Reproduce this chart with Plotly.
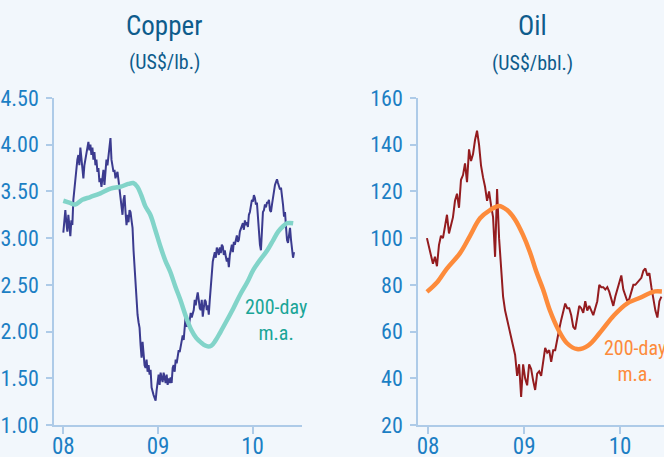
import pandas as pd
import plotly.graph_objects as go

# ---------------- data ----------------
copper_start = "2008-01-01"
copper_price = [
    3.06, 3.19, 3.30, 3.17, 3.07, 3.25, 3.11, 3.02, 3.19, 3.14,
    3.41, 3.52, 3.68, 3.75, 3.84, 3.89, 3.78, 3.97, 3.84, 3.73,
    3.64, 3.78, 3.84, 3.92, 3.98, 4.03, 3.94, 4.00, 3.89, 3.97,
    3.84, 3.92, 3.78, 3.84, 3.71, 3.75, 3.60, 3.64, 3.55, 3.62,
    3.73, 3.57, 3.68, 3.84, 3.78, 3.89, 3.94, 4.07, 3.84, 3.75,
    3.71, 3.73, 3.64, 3.68, 3.71, 3.62, 3.52, 3.49, 3.36, 3.25,
    3.41, 3.46, 3.28, 3.14, 3.25, 3.17, 3.30, 3.28, 3.19, 3.11,
    2.87, 2.68, 2.42, 2.28, 2.18, 2.10, 2.04, 1.86, 1.72, 1.89,
    1.75, 1.64, 1.61, 1.70, 1.57, 1.64, 1.54, 1.59, 1.40, 1.35,
    1.32, 1.29, 1.26, 1.37, 1.48, 1.54, 1.43, 1.56, 1.50, 1.46,
    1.56, 1.48, 1.45, 1.54, 1.43, 1.50, 1.45, 1.51, 1.45, 1.61,
    1.64, 1.57, 1.70, 1.66, 1.75, 1.80, 1.78, 1.84, 1.91, 1.96,
    1.91, 2.10, 2.18, 2.05, 2.10, 2.05, 2.15, 2.20, 2.15, 2.20,
    2.23, 2.34, 2.28, 2.36, 2.42, 2.34, 2.25, 2.23, 2.34, 2.16,
    2.28, 2.34, 2.32, 2.23, 2.28, 2.18, 2.34, 2.52, 2.66, 2.75,
    2.80, 2.85, 2.79, 2.90, 2.87, 2.82, 2.90, 2.84, 2.93, 2.91,
    2.82, 2.87, 2.80, 2.75, 2.79, 2.69, 2.82, 2.87, 2.93, 2.85,
    2.96, 2.93, 3.00, 3.03, 2.96, 2.98, 3.07, 3.11, 3.13, 3.16,
    3.09, 3.19, 3.14, 3.17, 3.12, 3.25, 3.28, 3.33, 3.41, 3.39,
    3.46, 3.43, 3.36, 3.38, 3.25, 3.03, 2.93, 2.87, 3.11, 3.28,
    3.30, 3.36, 3.33, 3.38, 3.38, 3.41, 3.30, 3.28, 3.36, 3.45,
    3.52, 3.57, 3.60, 3.63, 3.59, 3.56, 3.52, 3.54, 3.46, 3.36,
    3.23, 3.28, 3.12, 2.98, 2.95, 3.03, 3.11, 2.98, 2.87, 2.79,
    2.85,
]
copper_ma_dates = [
    "2008-01-01", "2008-01-24", "2008-02-16", "2008-03-14", "2008-04-14",
    "2008-05-23", "2008-07-01", "2008-08-08", "2008-09-08", "2008-09-27",
    "2008-10-13", "2008-10-28", "2008-11-13", "2008-12-02", "2008-12-21",
    "2009-01-10", "2009-01-29", "2009-02-17", "2009-03-09", "2009-03-28",
    "2009-04-20", "2009-05-09", "2009-05-29", "2009-06-17", "2009-07-02",
    "2009-07-14", "2009-07-26", "2009-08-10", "2009-08-29", "2009-09-22",
    "2009-10-19", "2009-11-15", "2009-12-12", "2010-01-04", "2010-01-31",
    "2010-02-27", "2010-03-22", "2010-04-10", "2010-04-30", "2010-05-15",
    "2010-06-07",
]
copper_ma = [
    3.40, 3.38, 3.36, 3.41, 3.44, 3.48, 3.53, 3.55, 3.58, 3.59,
    3.55, 3.46, 3.34, 3.25, 3.09, 2.91, 2.76, 2.64, 2.48, 2.34,
    2.15, 2.02, 1.93, 1.88, 1.85, 1.84, 1.85, 1.90, 1.99, 2.11,
    2.25, 2.40, 2.53, 2.66, 2.77, 2.87, 2.98, 3.07, 3.13, 3.16,
    3.16,
]

oil_start = "2007-12-28"
oil_price = [
    100, 96, 92, 89, 92, 88, 97, 101, 100, 106,
    110, 102, 106, 109, 116, 119, 113, 125, 127, 132,
    124, 138, 133, 136, 142, 146, 140, 131, 126, 122,
    116, 120, 114, 109, 92, 121, 100, 88, 75, 69,
    65, 62, 57, 54, 50, 41, 46, 32, 46, 40,
    37, 46, 44, 39, 35, 42, 43, 41, 48, 53,
    51, 52, 47, 52, 52, 57, 61, 65, 69, 72,
    70, 70, 67, 62, 61, 66, 71, 70, 68, 73,
    69, 71, 69, 67, 70, 73, 80, 79, 79, 78,
    79, 77, 74, 71, 75, 78, 82, 84, 78, 75,
    73, 74, 77, 80, 80, 81, 82, 83, 86, 87,
    84, 85, 79, 74, 69, 66, 73, 75,
]
oil_ma_dates = [
    "2007-12-28", "2008-02-04", "2008-03-13", "2008-05-02", "2008-06-09",
    "2008-07-17", "2008-08-24", "2008-09-27", "2008-10-28", "2008-11-27",
    "2008-12-27", "2009-01-23", "2009-02-15", "2009-03-14", "2009-04-09",
    "2009-05-10", "2009-06-13", "2009-07-21", "2009-09-01", "2009-10-16",
    "2009-12-09", "2010-01-27", "2010-03-18", "2010-04-25", "2010-05-14",
    "2010-06-09",
]
oil_ma = [
    77, 81, 87, 93.6, 101, 108.5, 112, 113.8, 112, 108,
    101.5, 94, 86, 78, 69, 61, 55, 52.5, 54, 59.5,
    67, 72, 74.5, 76.5, 77.2, 77.2,
]

x_tickvals = ["2008-01-01", "2009-01-01", "2010-01-01"]
x_ticktext = ["08", "09", "10"]
copper_yticks = [1.0, 1.5, 2.0, 2.5, 3.0, 3.5, 4.0, 4.5]
oil_yticks = [20, 40, 60, 80, 100, 120, 140, 160]

# ---------------- styling ----------------
W, H = 664, 457
BG = "#F2F7FC"
FONT = "Roboto Condensed, Liberation Sans Narrow, sans-serif"
TICKC = "#1C7FC4"
AXC = "#AECBE8"
TITLEC = "#0E5C8C"

copper_dates = pd.date_range(copper_start, periods=len(copper_price), freq="93h")
oil_dates = pd.date_range(oil_start, periods=len(oil_price), freq="183h")

fig = go.Figure()
fig.add_trace(go.Scatter(x=copper_dates, y=copper_price, mode="lines",
                         line=dict(color="#3B3B8F", width=2), xaxis="x", yaxis="y",
                         showlegend=False))
fig.add_trace(go.Scatter(x=copper_ma_dates, y=copper_ma, mode="lines",
                         line=dict(color="#82D4C9", width=4.5, shape="spline", smoothing=1.0),
                         xaxis="x", yaxis="y", showlegend=False))
fig.add_trace(go.Scatter(x=oil_dates, y=oil_price, mode="lines",
                         line=dict(color="#941C1F", width=2), xaxis="x2", yaxis="y2",
                         showlegend=False))
fig.add_trace(go.Scatter(x=oil_ma_dates, y=oil_ma, mode="lines",
                         line=dict(color="#FD8B3B", width=4.5, shape="spline", smoothing=1.0),
                         xaxis="x2", yaxis="y2", showlegend=False))

def px_x(p):
    return p / W

def px_y(p):
    return (H - p) / H

ydom = [px_y(425), px_y(98)]

common_x = dict(type="date", showgrid=False, zeroline=False, showline=True,
                linecolor=AXC, linewidth=1.5, ticks="outside", ticklen=7,
                tickcolor=AXC, tickwidth=1.5, tickvals=x_tickvals, ticktext=x_ticktext,
                tickfont=dict(family=FONT, size=23, color=TICKC), fixedrange=True,
                automargin=False, ticklabelstandoff=-7)
common_y = dict(showgrid=False, zeroline=False, showline=True, linecolor=AXC,
                linewidth=1.5, ticks="outside", ticklen=6, tickcolor=AXC, tickwidth=1.5,
                tickfont=dict(family=FONT, size=22, color=TICKC), ticklabelstandoff=3,
                fixedrange=True, automargin=False)

fig.update_layout(
    width=W, height=H,
    margin=dict(l=0, r=0, t=0, b=0, autoexpand=False),
    paper_bgcolor=BG, plot_bgcolor=BG,
    xaxis=dict(common_x, domain=[px_x(54), px_x(302)], anchor="y",
               range=["2007-11-26", "2010-07-11"]),
    yaxis=dict(common_y, domain=ydom, anchor="x", range=[1.0, 4.5],
               tickvals=copper_yticks, ticktext=[f"{v:.2f}" for v in copper_yticks]),
    xaxis2=dict(common_x, domain=[px_x(418), 1.0], anchor="y2",
                range=["2007-11-24", "2010-06-17"]),
    yaxis2=dict(common_y, domain=ydom, anchor="x2", range=[20, 160],
                tickvals=oil_yticks, ticktext=[str(v) for v in oil_yticks]),
)

def label(text, x, y, size, color):
    fig.add_annotation(text=text, x=px_x(x), y=px_y(y), xref="paper", yref="paper",
                       xanchor="center", yanchor="middle", showarrow=False,
                       font=dict(family=FONT, size=size, color=color))

label("Copper", 164, 26, 27, TITLEC)
label("(US$/lb.)", 164, 62, 20, TITLEC)
label("Oil", 532, 26, 27, TITLEC)
label("(US$/bbl.)", 532, 63, 20, TITLEC)
label("200-day<br>m.a.", 276, 320, 20, "#1AA597")
label("200-day<br>m.a.", 635, 361, 20, "#FD8B3B")

fig.write_html("out.html")
